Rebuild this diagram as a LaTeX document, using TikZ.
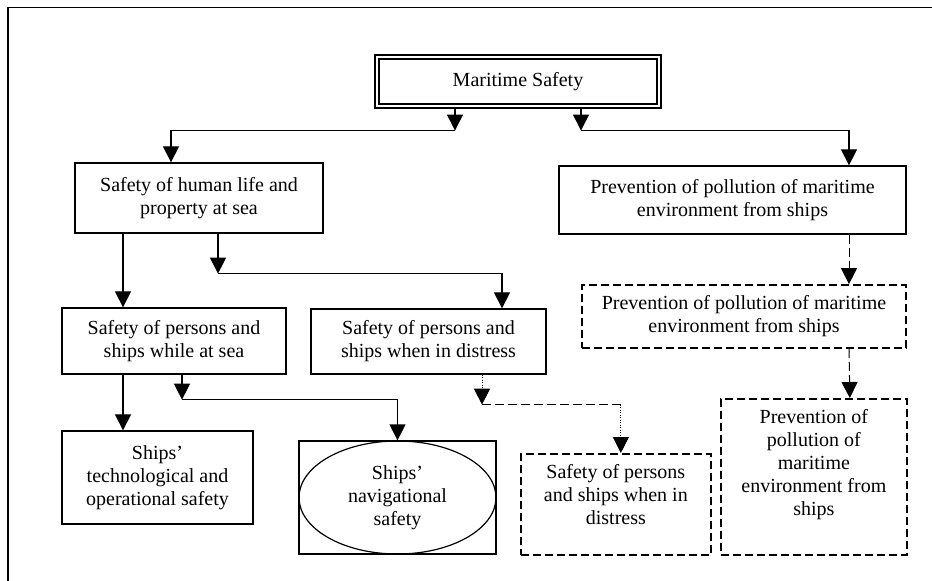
\documentclass[tikz,border=0pt]{standalone}
\usepackage{fontspec}
\setmainfont{Liberation Serif}
\usetikzlibrary{arrows.meta,shapes.geometric,calc}
\tikzset{
  box/.style={draw, line width=1.3pt, inner sep=0pt, align=center, font=\fontsize{20}{23}\selectfont},
  dbox/.style={box, line width=1.7pt, dash pattern=on 8pt off 4pt},
  dboxt/.style={draw, line width=1.7pt, dash pattern=on 8pt off 4pt, inner sep=0pt, font=\fontsize{20}{23}\selectfont, anchor=north west},
  ln/.style={line width=1.2pt},
  arr/.style={ln, -{Triangle[width=16pt,length=16pt]}},
  dashln/.style={line width=1pt, dash pattern=on 9pt off 4pt},
  darr/.style={arr, line width=1pt, dash pattern=on 9pt off 4pt},
  dotarr/.style={arr, line width=0.9pt, dash pattern=on 1pt off 1.5pt},
}
\begin{document}
\begin{tikzpicture}[x=1pt,y=-1pt]
\useasboundingbox (0,0) rectangle (932,581);
% frame
\draw[line width=1.5pt] (8,581) -- (8,7.5) -- (932,7.5);

% nodes
\node[box, line width=1.1pt, minimum width=286pt, minimum height=53pt] (ms) at (518,81.5) {Maritime Safety};
\draw[line width=2pt] ([shift={(4.5pt,-4.5pt)}]ms.north west) rectangle ([shift={(-4.5pt,4.5pt)}]ms.south east);

\node[box, minimum width=248pt, minimum height=70pt] (sh) at (199,198) {Safety of human life and\\property at sea};
\node[box, minimum width=347pt, minimum height=68pt] (pp) at (732.5,200) {Prevention of pollution of maritime\\environment from ships};
\node[dbox, minimum width=324pt, minimum height=63pt] (pd) at (744,316.5) {Prevention of pollution of maritime\\environment from ships};
\node[box, minimum width=224pt, minimum height=66pt] (ss) at (174,341) {Safety of persons and\\ships while at sea};
\node[box, minimum width=235pt, minimum height=65pt] (sd) at (428.5,341.5) {Safety of persons and\\ships when in distress};
\node[box, minimum width=191pt, minimum height=93pt] (st) at (157.5,477.5) {Ships’\\technological and\\operational safety};
\node[draw, line width=1.3pt, minimum width=197pt, minimum height=113pt, inner sep=0pt] (snbox) at (397.5,497.5) {};
\node[box, ellipse, line width=1.2pt, minimum width=197pt, minimum height=113pt] (sn) at (397.5,497.5) {Ships’\\navigational\\safety};
\node[dboxt] (sdd) at (520,453) {\parbox[t][101pt][t]{190pt}{\centering\vspace*{11pt}Safety of persons\\and ships when in\\distress}};
\node[dboxt] (pdd) at (720,398) {\parbox[t][156pt][t]{186pt}{\centering\vspace*{11pt}Prevention of\\pollution of\\maritime\\environment from\\ships}};

% connectors
\draw[arr] ([xshift=-63pt]ms.south) -- ++(0,22) coordinate (j1);
\draw[arr] (j1) -| ([xshift=-28pt]sh.north);
\draw[arr] ([xshift=63pt]ms.south) -- ++(0,22) coordinate (j2);
\draw[arr] (j2) -| ([xshift=116.5pt]pp.north);

\draw[arr] ([xshift=-76pt]sh.south) -- ([xshift=-51pt]ss.north);
\draw[arr] ([xshift=19pt]sh.south) -- ++(0,40) coordinate (j3);
\draw[arr] (j3) -| ([xshift=73.5pt]sd.north);

\draw[darr] ([xshift=116.5pt]pp.south) -- ([xshift=105pt]pd.north);
\draw[darr] ([xshift=105pt]pd.south) -- ([xshift=36pt]pdd.north);

\draw[arr] ([xshift=-51pt]ss.south) -- ([xshift=-34.5pt]st.north);
\draw[arr] ([xshift=8pt]ss.south) -- ++(0,25) coordinate (j4);
\draw[arr] (j4) -| (sn.north);

\coordinate (k5) at ([xshift=5pt]sdd.north);
\draw[dotarr] ([xshift=53.5pt]sd.south) -- ++(0,30) coordinate (j5);
\draw[dashln] (j5) -- (j5 -| k5) coordinate (j6);
\draw[dotarr] (j6) -- (k5);
\end{tikzpicture}
\end{document}
